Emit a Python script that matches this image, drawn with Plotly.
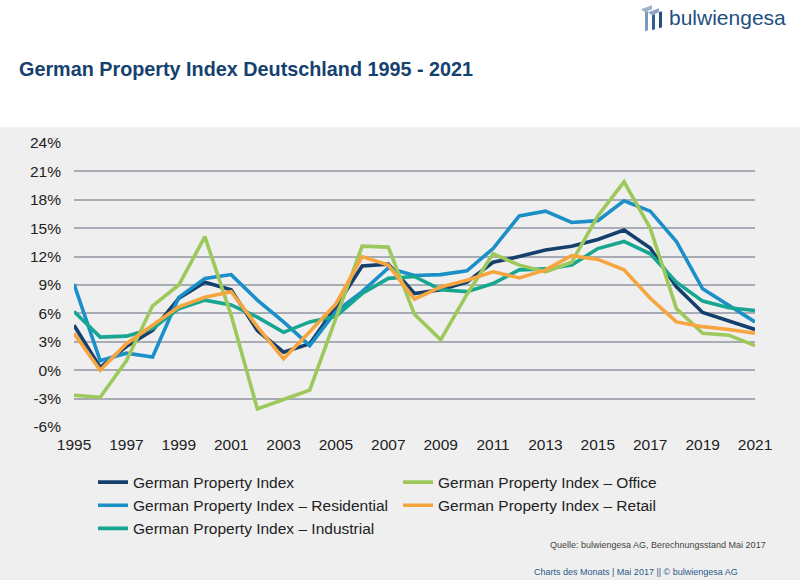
import plotly.graph_objects as go

# ---------------- data ----------------
years = list(range(1995, 2022))

gpi = [4.75, 0.3, 2.5, 4.2, 7.6, 9.3, 8.5, 4.2, 1.9, 2.8, 6.7, 11.0, 11.2, 8.1,
       8.5, 9.3, 11.4, 12.0, 12.7, 13.1, 13.8, 14.8, 12.9, 8.8, 6.1, 5.2, 4.3]
residential = [9.1, 1.0, 1.8, 1.4, 7.7, 9.7, 10.1, 7.4, 5.1, 2.6, 6.2, 8.3, 10.8, 10.0,
               10.1, 10.5, 12.85, 16.3, 16.8, 15.6, 15.8, 17.9, 16.8, 13.6, 8.6, 6.9, 5.1]
industrial = [6.2, 3.5, 3.6, 4.4, 6.5, 7.4, 6.9, 5.6, 4.0, 5.1, 5.7, 8.1, 9.7, 9.9,
              8.5, 8.3, 9.15, 10.6, 10.7, 11.1, 12.85, 13.6, 12.3, 9.3, 7.3, 6.6, 6.3]
office = [-2.65, -2.85, 1.0, 6.8, 9.0, 14.1, 5.8, -4.1, -3.1, -2.1, 5.5, 13.1, 13.0, 5.9,
          3.2, 8.0, 12.3, 11.1, 10.4, 11.4, 16.3, 19.9, 15.0, 6.5, 3.9, 3.7, 2.6]
retail = [3.9, 0.0, 2.8, 4.75, 6.7, 7.7, 8.3, 4.6, 1.2, 4.05, 7.0, 12.0, 11.1, 7.5,
          8.8, 9.5, 10.4, 9.75, 10.6, 12.1, 11.7, 10.6, 7.6, 5.1, 4.6, 4.3, 3.9]

series_names = ["German Property Index",
                "German Property Index – Residential",
                "German Property Index – Industrial",
                "German Property Index – Office",
                "German Property Index – Retail"]

y_tickvals = [-6, -3, 0, 3, 6, 9, 12, 15, 18, 21, 24]
y_ticktext = ["-6%", "-3%", "0%", "3%", "6%", "9%", "12%", "15%", "18%", "21%", "24%"]
x_tickvals = list(range(1995, 2022, 2))

title_text = "German Property Index Deutschland 1995 - 2021"
source_text = "Quelle: bulwiengesa AG, Berechnungsstand Mai 2017"
footer_text = "Charts des Monats | Mai 2017 || © bulwiengesa AG"
logo_text = "bulwiengesa"

# ---------------- styling ----------------
W, H = 800, 580
L, R, T, B = 74, 755, 142.7, 426.7
FONT = "Liberation Sans, Arial, Helvetica, sans-serif"


def px(x):
    return (x - L) / (R - L)


def py(y):
    return (B - y) / (B - T)


colors = ["#15406d", "#1a8fc8", "#17a692", "#9dc85b", "#f7a53f"]
legends = ["legend", "legend", "legend", "legend2", "legend2"]
values = [gpi, residential, industrial, office, retail]

fig = go.Figure()
for name, vals, col, lg in zip(series_names, values, colors, legends):
    fig.add_trace(go.Scatter(
        x=years, y=vals, mode="lines", name=name, legend=lg,
        line=dict(color=col, width=3.6),
        hoverinfo="skip",
    ))

shapes = [
    # white header band
    dict(type="rect", xref="paper", yref="paper",
         x0=px(-5), x1=px(805), y0=py(127), y1=py(-5),
         fillcolor="white", line=dict(width=0), layer="below"),
]

# logo icon (decorative)
icon_paths = [
    ("M 641 9 L 652 5 L 652 9 L 645 12 Z", "#9fb2c9"),
    ("M 648 12 L 659 8 L 659 12 L 652 15 Z", "#8ea5c2"),
    ("M 645 12 L 648 11 L 648 30 L 645 31 Z", "#7f98b8"),
    ("M 652 15 L 655 14 L 655 29 L 652 30 Z", "#2f5f93"),
    ("M 659 12 L 662 11 L 662 27 L 659 28 Z", "#1f4f80"),
]


def to_paper_path(p):
    toks = p.split()
    out = []
    i = 0
    while i < len(toks):
        t = toks[i]
        if t in ("M", "L"):
            x = px(float(toks[i + 1]))
            y = py(float(toks[i + 2]))
            out.append(f"{t} {x:.5f} {y:.5f}")
            i += 3
        else:
            out.append(t)
            i += 1
    return " ".join(out)


for p, c in icon_paths:
    shapes.append(dict(type="path", xref="paper", yref="paper",
                       path=to_paper_path(p), fillcolor=c,
                       line=dict(width=0), layer="above"))

annotations = [
    dict(text=f"<b>{title_text}</b>", xref="paper", yref="paper",
         x=px(17), y=py(69), xanchor="left", yanchor="middle",
         showarrow=False, font=dict(family=FONT, size=19.8, color="#15416f")),
    dict(text=logo_text, xref="paper", yref="paper",
         x=px(667), y=py(17), xanchor="left", yanchor="middle",
         showarrow=False, font=dict(family=FONT, size=21, color="#1f4f80")),
    dict(text=source_text, xref="paper", yref="paper",
         x=px(768), y=py(545), xanchor="right", yanchor="middle",
         showarrow=False, font=dict(family=FONT, size=9, color="#444444")),
    dict(text=footer_text, xref="paper", yref="paper",
         x=px(740), y=py(572), xanchor="right", yanchor="middle",
         showarrow=False, font=dict(family=FONT, size=9, color="#2a5a8a")),
]

legend_common = dict(
    xref="container", yref="container", xanchor="left", yanchor="top",
    orientation="v", bgcolor="rgba(0,0,0,0)", borderwidth=0,
    font=dict(family=FONT, size=15.5, color="#222222"),
    tracegroupgap=0, itemwidth=30,
)

fig.update_layout(
    width=W, height=H,
    margin=dict(l=L, r=W - R, t=T, b=H - B, pad=0, autoexpand=False),
    paper_bgcolor="#efefef", plot_bgcolor="#efefef",
    font=dict(family=FONT, size=15.5, color="#222222"),
    showlegend=True,
    xaxis=dict(range=[1995, 2021], tickvals=x_tickvals, showgrid=False,
               zeroline=False, showline=False, ticks="", ticklabelstandoff=6,
               fixedrange=True, automargin=False),
    yaxis=dict(range=[-6, 24], tickvals=y_tickvals, ticktext=y_ticktext,
               showgrid=True, gridcolor="#a8acb4", gridwidth=1.5,
               zeroline=False, showline=False, ticks="", ticklabelstandoff=12,
               fixedrange=True, automargin=False),
    legend=dict(x=93 / W, y=1 - 465.5 / H, **legend_common),
    legend2=dict(x=398 / W, y=1 - 465.5 / H, **legend_common),
    shapes=shapes,
    annotations=annotations,
)

fig.write_html(
    "out.html",
    config={"displayModeBar": False},
    post_script="document.body.style.margin='0';document.body.style.overflow='hidden';",
)
